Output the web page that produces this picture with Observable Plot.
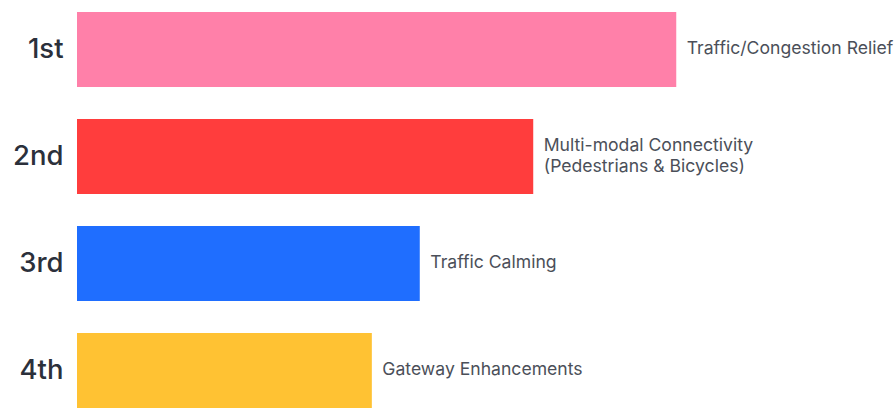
<!DOCTYPE html>
<html><head><meta charset="utf-8">
<script src="https://cdn.jsdelivr.net/npm/d3@7"></script>
<script src="https://cdn.jsdelivr.net/npm/@observablehq/plot@0.6"></script>
<style>
html,body{margin:0;padding:0;background:#fff;overflow:hidden}
</style>
</head><body><div id="chart"></div>
<script>
const ranks = ["1st", "2nd", "3rd", "4th"];
const categories = ["Traffic/Congestion Relief", "Multi-modal Connectivity\n(Pedestrians & Bicycles)", "Traffic Calming", "Gateway Enhancements"];
const scores = [75, 57.1, 42.9, 36.9];
const colors = ["#FF80A9", "#FF3D3D", "#1F6EFF", "#FFC233"];

const data = ranks.map((r, i) => ({rank: r, category: categories[i], score: scores[i], color: colors[i]}));

const chart = Plot.plot({
  width: 896,
  height: 408,
  marginLeft: 77,
  marginRight: 20,
  marginTop: 0,
  marginBottom: 0,
  style: {fontFamily: "Inter, 'Noto Sans', sans-serif", background: "#fff", overflow: "visible"},
  x: {domain: [0, 100], range: [77, 876], axis: null},
  y: {domain: ranks, range: [10, 410], paddingInner: 0.296, paddingOuter: 0, label: null, axis: null},
  marks: [
    Plot.barX(data, {y: "rank", x: "score", fill: "color"}),
    Plot.text(data, {y: "rank", x: 0, text: "rank", textAnchor: "end", dx: -14, dy: -1, fontSize: 27.5, fill: "#2b303b", fontWeight: 500}),
    Plot.text(data, {y: "rank", x: "score", text: "category", textAnchor: "start", dx: 10, dy: -2, fontSize: 17.6, fill: "#4b4f59", lineHeight: 1.15})
  ]
});
document.getElementById("chart").appendChild(chart);
</script>
</body></html>
